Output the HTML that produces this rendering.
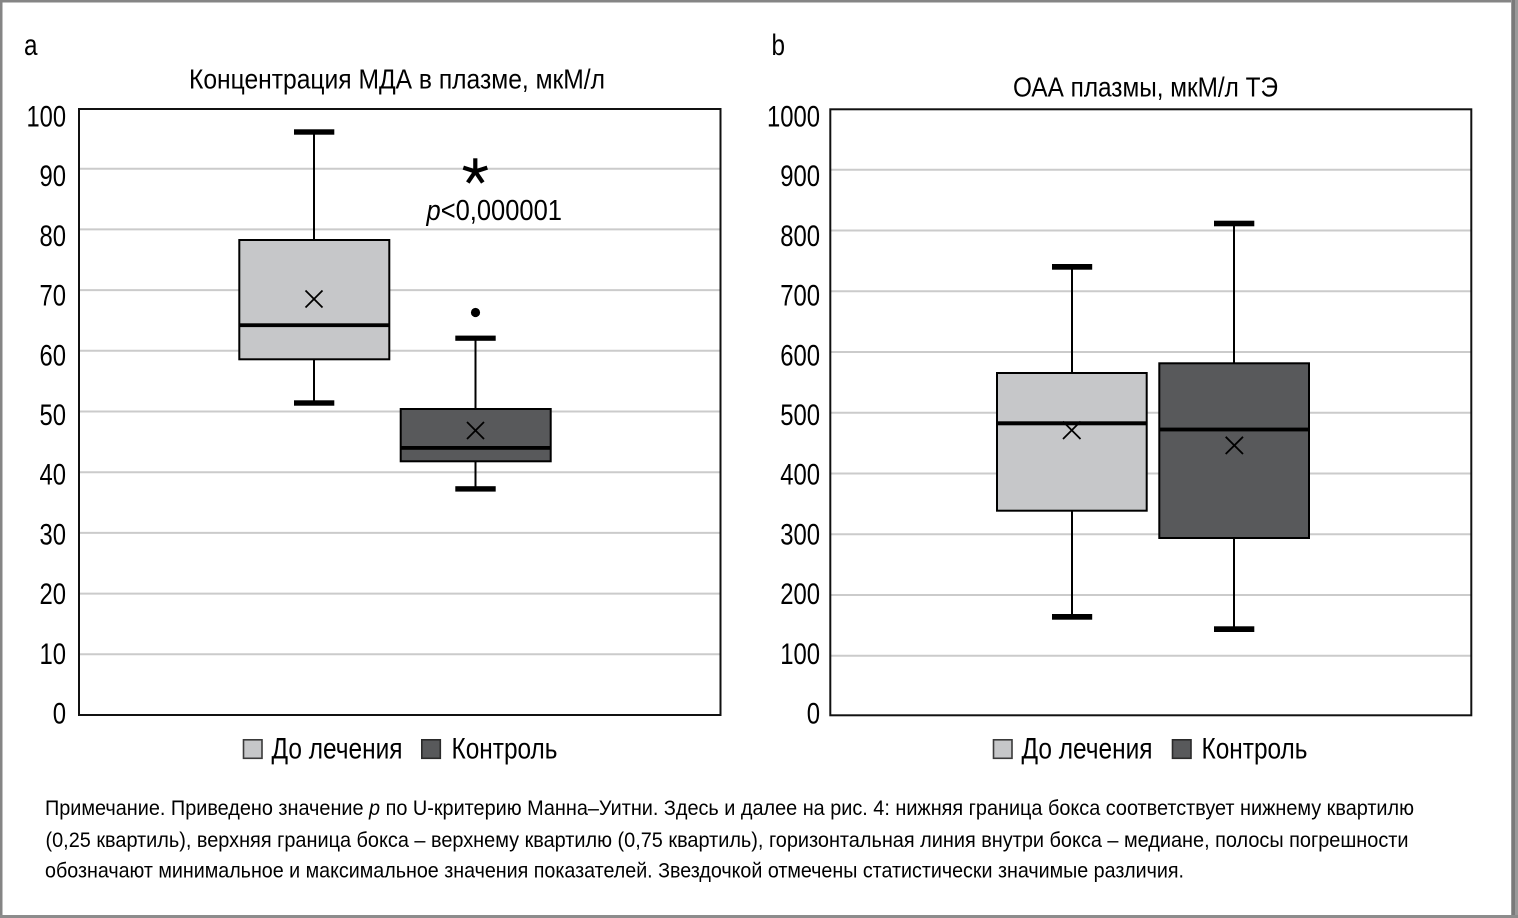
<!DOCTYPE html>
<html>
<head>
<meta charset="utf-8">
<style>
html,body{margin:0;padding:0;background:#fff;}
svg{display:block;}
text{font-family:"Liberation Sans Narrow","Liberation Sans","DejaVu Sans Condensed",sans-serif;fill:#000;}
</style>
</head>
<body>
<svg width="1518" height="918" viewBox="0 0 1518 918" xmlns="http://www.w3.org/2000/svg">
  <rect x="0" y="0" width="1518" height="918" fill="#fff"/>
  <!-- outer frame -->
  <rect x="0" y="0" width="1518" height="2.5" fill="#858585"/>
  <rect x="0" y="0" width="2.5" height="918" fill="#858585"/>
  <rect x="1511" y="0" width="7" height="918" fill="#9a9a9a"/>
  <rect x="1512" y="0" width="3" height="918" fill="#7a7a7a"/>
  <rect x="0" y="915" width="1518" height="3" fill="#8c8c8c"/>

  <!-- panel labels -->
  <text x="24" y="55" font-size="30" textLength="13.5" lengthAdjust="spacingAndGlyphs">a</text>
  <text x="771.5" y="55" font-size="30" textLength="13.5" lengthAdjust="spacingAndGlyphs">b</text>

  <!-- titles -->
  <text x="189" y="88.5" font-size="27.5" textLength="416" lengthAdjust="spacingAndGlyphs">Концентрация МДА в плазме, мкМ/л</text>
  <text x="1013" y="96.5" font-size="27.5" textLength="265" lengthAdjust="spacingAndGlyphs">ОАА плазмы, мкМ/л ТЭ</text>

  <!-- ========== LEFT CHART ========== -->
  <g stroke="#cbcbcb" stroke-width="2">
    <line x1="79" x2="720.5" y1="168.7" y2="168.7"/>
    <line x1="79" x2="720.5" y1="229.4" y2="229.4"/>
    <line x1="79" x2="720.5" y1="290.1" y2="290.1"/>
    <line x1="79" x2="720.5" y1="350.8" y2="350.8"/>
    <line x1="79" x2="720.5" y1="411.5" y2="411.5"/>
    <line x1="79" x2="720.5" y1="472.2" y2="472.2"/>
    <line x1="79" x2="720.5" y1="532.9" y2="532.9"/>
    <line x1="79" x2="720.5" y1="593.6" y2="593.6"/>
    <line x1="79" x2="720.5" y1="654.3" y2="654.3"/>
  </g>
  <rect x="79" y="109" width="641.5" height="606" fill="none" stroke="#111" stroke-width="2"/>

  <!-- y labels left -->
  <g font-size="29.5" text-anchor="end">
    <text x="66" y="126.5" textLength="39.5" lengthAdjust="spacingAndGlyphs">100</text>
    <text x="66" y="186.2" textLength="26.5" lengthAdjust="spacingAndGlyphs">90</text>
    <text x="66" y="245.9" textLength="26.5" lengthAdjust="spacingAndGlyphs">80</text>
    <text x="66" y="305.6" textLength="26.5" lengthAdjust="spacingAndGlyphs">70</text>
    <text x="66" y="365.3" textLength="26.5" lengthAdjust="spacingAndGlyphs">60</text>
    <text x="66" y="425.0" textLength="26.5" lengthAdjust="spacingAndGlyphs">50</text>
    <text x="66" y="484.7" textLength="26.5" lengthAdjust="spacingAndGlyphs">40</text>
    <text x="66" y="544.4" textLength="26.5" lengthAdjust="spacingAndGlyphs">30</text>
    <text x="66" y="604.1" textLength="26.5" lengthAdjust="spacingAndGlyphs">20</text>
    <text x="66" y="663.8" textLength="26.5" lengthAdjust="spacingAndGlyphs">10</text>
    <text x="66" y="723.5" textLength="13.3" lengthAdjust="spacingAndGlyphs">0</text>
  </g>

  <!-- box 1 left -->
  <line x1="314" y1="132" x2="314" y2="240" stroke="#000" stroke-width="2"/>
  <line x1="314" y1="359" x2="314" y2="403" stroke="#000" stroke-width="2"/>
  <rect x="294" y="129.3" width="40.3" height="5.4" fill="#000"/>
  <rect x="294" y="400.3" width="40.3" height="5.4" fill="#000"/>
  <rect x="239.3" y="240" width="150" height="119.3" fill="#c6c7c9" stroke="#000" stroke-width="2"/>
  <rect x="239.3" y="323.3" width="150" height="3.8" fill="#000"/>
  <g stroke="#000" stroke-width="1.8">
    <line x1="305.5" y1="290.5" x2="322.5" y2="307.5"/>
    <line x1="322.5" y1="290.5" x2="305.5" y2="307.5"/>
  </g>

  <!-- box 2 left -->
  <line x1="475.5" y1="338" x2="475.5" y2="409" stroke="#000" stroke-width="2"/>
  <line x1="475.5" y1="461" x2="475.5" y2="489" stroke="#000" stroke-width="2"/>
  <rect x="455.3" y="335.6" width="40.4" height="5.2" fill="#000"/>
  <rect x="455.3" y="486.2" width="40.4" height="5.4" fill="#000"/>
  <rect x="400.7" y="409" width="150" height="52.3" fill="#58595b" stroke="#000" stroke-width="2"/>
  <rect x="400.7" y="446" width="150" height="3.8" fill="#000"/>
  <g stroke="#000" stroke-width="1.8">
    <line x1="467" y1="422" x2="484" y2="439"/>
    <line x1="484" y1="422" x2="467" y2="439"/>
  </g>
  <circle cx="475.5" cy="312.5" r="4.6" fill="#000"/>

  <!-- asterisk -->
  <g stroke="#000" stroke-width="4.2" stroke-linecap="butt">
    <line x1="475.3" y1="171.5" x2="475.3" y2="158.3"/>
    <line x1="475.3" y1="171.5" x2="463.3" y2="167.6"/>
    <line x1="475.3" y1="171.5" x2="487.3" y2="167.6"/>
    <line x1="475.3" y1="171.5" x2="467.8" y2="182.5"/>
    <line x1="475.3" y1="171.5" x2="482.8" y2="182.5"/>
  </g>
  <text x="426.5" y="220" font-size="28.5" textLength="135.5" lengthAdjust="spacingAndGlyphs"><tspan font-style="italic">p</tspan>&lt;0,000001</text>

  <!-- legend left -->
  <rect x="243.5" y="739.8" width="18.5" height="18.5" fill="#c6c7c9" stroke="#3a3a3a" stroke-width="1.6"/>
  <text x="271.5" y="758.5" font-size="30" textLength="131" lengthAdjust="spacingAndGlyphs">До лечения</text>
  <rect x="421.8" y="739.8" width="18.5" height="18.5" fill="#58595b" stroke="#2a2a2a" stroke-width="1.6"/>
  <text x="451.5" y="758.5" font-size="30" textLength="106" lengthAdjust="spacingAndGlyphs">Контроль</text>

  <!-- ========== RIGHT CHART ========== -->
  <g stroke="#cbcbcb" stroke-width="2">
    <line x1="830.3" x2="1471" y1="169.7" y2="169.7"/>
    <line x1="830.3" x2="1471" y1="230.5" y2="230.5"/>
    <line x1="830.3" x2="1471" y1="291.2" y2="291.2"/>
    <line x1="830.3" x2="1471" y1="352" y2="352"/>
    <line x1="830.3" x2="1471" y1="412.7" y2="412.7"/>
    <line x1="830.3" x2="1471" y1="473.5" y2="473.5"/>
    <line x1="830.3" x2="1471" y1="534.2" y2="534.2"/>
    <line x1="830.3" x2="1471" y1="595" y2="595"/>
    <line x1="830.3" x2="1471" y1="655.7" y2="655.7"/>
  </g>
  <rect x="830.3" y="109.3" width="641" height="606" fill="none" stroke="#111" stroke-width="2"/>

  <g font-size="29.5" text-anchor="end">
    <text x="820" y="126.5" textLength="53" lengthAdjust="spacingAndGlyphs">1000</text>
    <text x="820" y="186.2" textLength="39.8" lengthAdjust="spacingAndGlyphs">900</text>
    <text x="820" y="245.9" textLength="39.8" lengthAdjust="spacingAndGlyphs">800</text>
    <text x="820" y="305.6" textLength="39.8" lengthAdjust="spacingAndGlyphs">700</text>
    <text x="820" y="365.3" textLength="39.8" lengthAdjust="spacingAndGlyphs">600</text>
    <text x="820" y="425.0" textLength="39.8" lengthAdjust="spacingAndGlyphs">500</text>
    <text x="820" y="484.7" textLength="39.8" lengthAdjust="spacingAndGlyphs">400</text>
    <text x="820" y="544.4" textLength="39.8" lengthAdjust="spacingAndGlyphs">300</text>
    <text x="820" y="604.1" textLength="39.8" lengthAdjust="spacingAndGlyphs">200</text>
    <text x="820" y="663.8" textLength="39.8" lengthAdjust="spacingAndGlyphs">100</text>
    <text x="820" y="723.5" textLength="13.3" lengthAdjust="spacingAndGlyphs">0</text>
  </g>

  <!-- box 1 right -->
  <line x1="1072" y1="267" x2="1072" y2="373" stroke="#000" stroke-width="2"/>
  <line x1="1072" y1="510.7" x2="1072" y2="617" stroke="#000" stroke-width="2"/>
  <rect x="1052" y="264" width="40.2" height="5.7" fill="#000"/>
  <rect x="1052" y="614" width="40.2" height="5.7" fill="#000"/>
  <rect x="997" y="373" width="149.7" height="137.7" fill="#c6c7c9" stroke="#000" stroke-width="2"/>
  <g stroke="#000" stroke-width="1.8">
    <line x1="1063" y1="421.5" x2="1080.5" y2="439"/>
    <line x1="1080.5" y1="421.5" x2="1063" y2="439"/>
  </g>
  <rect x="997" y="421.3" width="149.7" height="4" fill="#000"/>

  <!-- box 2 right -->
  <line x1="1234" y1="223.5" x2="1234" y2="363.3" stroke="#000" stroke-width="2"/>
  <line x1="1234" y1="538" x2="1234" y2="629" stroke="#000" stroke-width="2"/>
  <rect x="1214" y="220.7" width="40.3" height="5.6" fill="#000"/>
  <rect x="1214" y="626.3" width="40.3" height="5.7" fill="#000"/>
  <rect x="1159.3" y="363.3" width="149.7" height="174.7" fill="#58595b" stroke="#000" stroke-width="2"/>
  <rect x="1159.3" y="427.6" width="149.7" height="3.8" fill="#000"/>
  <g stroke="#000" stroke-width="1.8">
    <line x1="1225.7" y1="436.8" x2="1243" y2="454"/>
    <line x1="1243" y1="436.8" x2="1225.7" y2="454"/>
  </g>

  <!-- legend right -->
  <rect x="993.5" y="739.8" width="18.5" height="18.5" fill="#c6c7c9" stroke="#3a3a3a" stroke-width="1.6"/>
  <text x="1021.5" y="758.5" font-size="30" textLength="131" lengthAdjust="spacingAndGlyphs">До лечения</text>
  <rect x="1172.5" y="739.8" width="18.5" height="18.5" fill="#58595b" stroke="#2a2a2a" stroke-width="1.6"/>
  <text x="1201.5" y="758.5" font-size="30" textLength="106" lengthAdjust="spacingAndGlyphs">Контроль</text>

  <!-- note -->
  <g font-size="21">
    <text x="45" y="815" textLength="1369" lengthAdjust="spacingAndGlyphs">Примечание. Приведено значение <tspan font-style="italic">p</tspan> по U-критерию Манна–Уитни. Здесь и далее на рис. 4: нижняя граница бокса соответствует нижнему квартилю</text>
    <text x="45.5" y="847" textLength="1363" lengthAdjust="spacingAndGlyphs">(0,25 квартиль), верхняя граница бокса – верхнему квартилю (0,75 квартиль), горизонтальная линия внутри бокса – медиане, полосы погрешности</text>
    <text x="45" y="877.5" textLength="1139" lengthAdjust="spacingAndGlyphs">обозначают минимальное и максимальное значения показателей. Звездочкой отмечены статистически значимые различия.</text>
  </g>
</svg>
</body>
</html>
